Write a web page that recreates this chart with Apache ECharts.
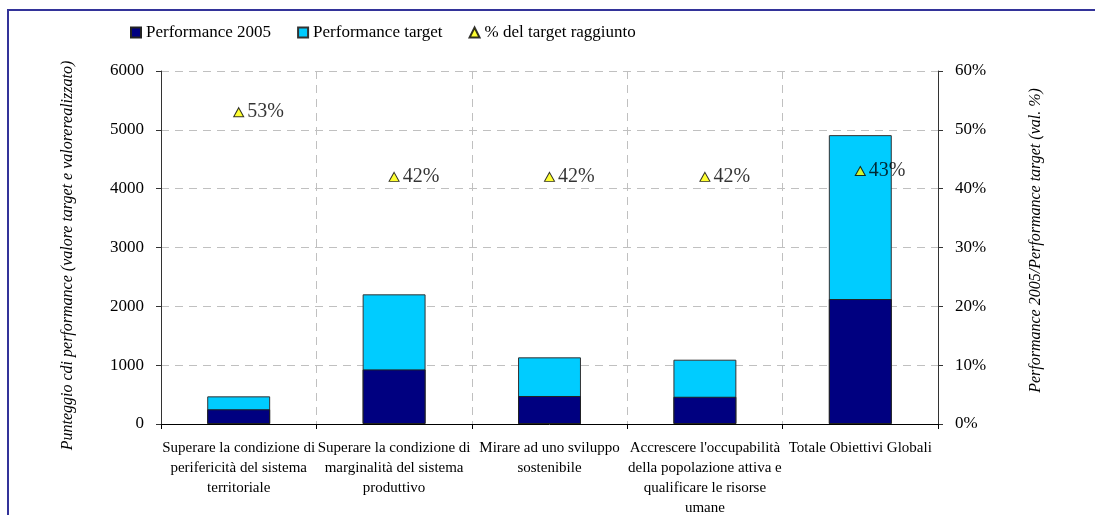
<!DOCTYPE html>
<html>
<head>
<meta charset="utf-8">
<script src="https://cdn.jsdelivr.net/npm/echarts@6/dist/echarts.min.js"></script>
<style>
  html, body { margin: 0; padding: 0; background: #fff; }
  #frame {
    position: absolute; left: 7px; top: 9px; right: -10px; bottom: -10px;
    border-left: 2px solid #333399; border-top: 2px solid #333399;
  }
  #main { position: absolute; left: 0; top: 0; width: 1095px; height: 515px; }
</style>
</head>
<body>
<div id="frame"></div>
<div id="main"></div>
<script>
// categorie (obiettivi globali)
const categories = [
  'Superare la condizione di\nperifericità del sistema\nterritoriale',
  'Superare la condizione di\nmarginalità del sistema\nproduttivo',
  'Mirare ad uno sviluppo\nsostenibile',
  "Accrescere l'occupabilità\ndella popolazione attiva e\nqualificare le risorse\numane",
  'Totale Obiettivi Globali',
]
const perf2005 = [250, 928, 476, 463, 2124]
const perfTarget = [470, 2204, 1133, 1093, 4910]
const pctRaggiunto = [53, 42, 42, 42, 43]

const FONT = "'Liberation Serif', 'Times New Roman', serif"

const chart = echarts.init(document.getElementById('main'))

const option = {
  animation: false,
  textStyle: { fontFamily: FONT, color: '#000' },
  legend: {
    left: 125,
    top: 19,
    itemWidth: 10,
    itemHeight: 10,
    itemGap: 26,
    textStyle: { fontFamily: FONT, fontSize: 17, color: '#000' },
    data: [
      { name: 'Performance 2005', icon: 'rect' },
      { name: 'Performance target', icon: 'rect' },
      { name: '% del target raggiunto', icon: 'triangle' },
    ],
  },
  grid: {
    left: 161,
    right: 157,
    top: 71,
    bottom: 91,
    containLabel: false,
    outerBoundsMode: 'none',
  },
  xAxis: {
    type: 'category',
    data: categories,
    axisLine: { lineStyle: { color: '#000', width: 1 } },
    axisTick: { show: true, length: 5, lineStyle: { color: '#000' } },
    axisLabel: {
      interval: 0,
      fontFamily: FONT,
      fontSize: 15,
      lineHeight: 20,
      color: '#000',
      margin: 14,
    },
    splitLine: {
      show: true,
      lineStyle: { color: '#c0c0c0', type: [8, 6], width: 1 },
    },
  },
  yAxis: [
    {
      type: 'value',
      min: 0,
      max: 6000,
      interval: 1000,
      name: 'Punteggio cdi performance (valore target e valorerealizzato)',
      nameLocation: 'middle',
      nameRotate: 90,
      nameGap: 85,
      nameTextStyle: {
        fontFamily: FONT, fontSize: 16, fontStyle: 'italic', color: '#000',
        padding: [0, 16, 0, 0],
      },
      axisLine: { show: true, lineStyle: { color: '#333', width: 1 } },
      axisTick: { show: true, length: 5, lineStyle: { color: '#333' } },
      axisLabel: {
        fontFamily: FONT, fontSize: 17, color: '#000', margin: 17,
        formatter: (v) => String(v),
      },
      splitLine: {
        show: true,
        lineStyle: { color: '#c0c0c0', type: [8, 6], width: 1 },
      },
    },
    {
      type: 'value',
      min: 0,
      max: 60,
      interval: 10,
      name: 'Performance 2005/Performance target (val. %)',
      nameLocation: 'middle',
      nameRotate: 90,
      nameGap: 90,
      nameTextStyle: {
        fontFamily: FONT, fontSize: 16, fontStyle: 'italic', color: '#000',
        padding: [0, 0, 0, 14],
      },
      axisLine: { show: true, lineStyle: { color: '#333', width: 1 } },
      axisTick: { show: true, length: 5, lineStyle: { color: '#333' } },
      axisLabel: { fontFamily: FONT, fontSize: 17, color: '#000', margin: 17, formatter: '{value}%' },
      splitLine: { show: false },
    },
  ],
  series: [
    {
      name: 'Performance target',
      type: 'bar',
      barWidth: '40.5%',
      data: perfTarget,
      itemStyle: { color: '#00ccff', borderColor: '#333', borderWidth: 1 },
      z: 2,
    },
    {
      name: 'Performance 2005',
      type: 'bar',
      barWidth: '40.5%',
      barGap: '-100%',
      data: perf2005,
      itemStyle: { color: '#000080', borderColor: '#222', borderWidth: 1 },
      z: 3,
    },
    {
      name: '% del target raggiunto',
      type: 'scatter',
      yAxisIndex: 1,
      symbol: 'triangle',
      symbolSize: [10, 9],
      data: pctRaggiunto,
      itemStyle: { color: '#ffff00', borderColor: '#000', borderWidth: 1 },
      label: {
        show: true,
        position: 'right',
        distance: 3,
        formatter: '{c}%',
        fontFamily: FONT,
        fontSize: 20,
        color: '#000',
      },
      z: 5,
    },
  ],
}

chart.setOption(option)
</script>
</body>
</html>
